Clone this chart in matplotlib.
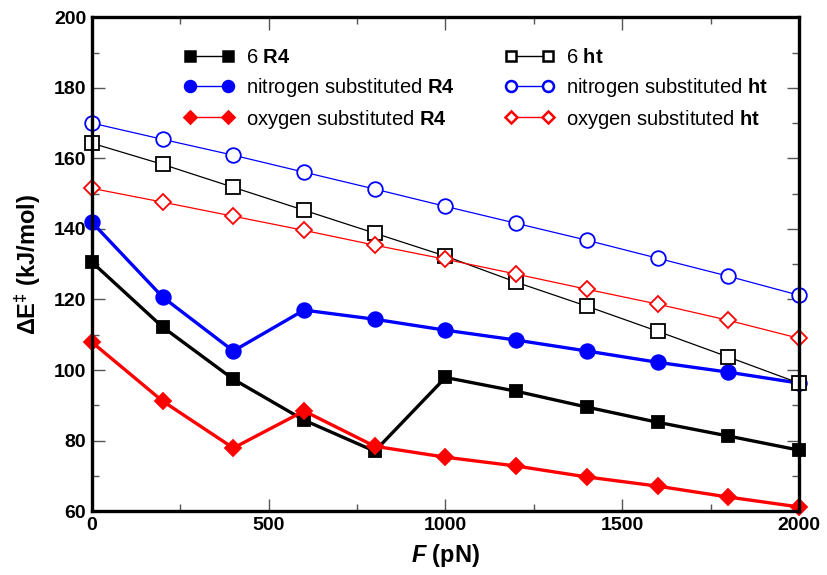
import matplotlib
matplotlib.use("Agg")
import matplotlib.pyplot as plt
from matplotlib.lines import Line2D
from matplotlib.ticker import MultipleLocator

plt.rcParams['font.family'] = ['Liberation Sans', 'DejaVu Sans']
plt.rcParams['mathtext.fontset'] = 'custom'
plt.rcParams['mathtext.rm'] = 'Liberation Sans'
plt.rcParams['mathtext.bf'] = 'Liberation Sans:bold'
plt.rcParams['mathtext.it'] = 'Liberation Sans:bold:italic'

force = [0, 200, 400, 600, 800, 1000, 1200, 1400, 1600, 1800, 2000]
r4_6 = [130.6, 112.2, 97.4, 85.8, 77.0, 97.9, 94.0, 89.5, 85.2, 81.3, 77.3]
r4_n = [141.9, 120.7, 105.4, 117.0, 114.4, 111.3, 108.5, 105.4, 102.2, 99.4, 96.3]
r4_o = [107.9, 91.2, 77.9, 88.4, 78.4, 75.3, 72.8, 69.7, 67.1, 64.0, 61.2]
ht_6 = [164.3, 158.3, 151.8, 145.3, 138.8, 132.3, 124.9, 118.1, 111.0, 103.7, 96.3]
ht_n = [170.0, 165.4, 160.9, 156.1, 151.3, 146.4, 141.6, 136.8, 131.7, 126.6, 121.2]
ht_o = [151.5, 147.6, 143.6, 139.6, 135.4, 131.4, 127.2, 122.9, 118.7, 114.1, 109.0]

labels = [r'6 $\mathbf{R4}$', r'nitrogen substituted $\mathbf{R4}$', r'oxygen substituted $\mathbf{R4}$',
          r'6 $\mathbf{ht}$', r'nitrogen substituted $\mathbf{ht}$', r'oxygen substituted $\mathbf{ht}$']

fig = plt.figure(figsize=(8.28, 5.75), dpi=100)
ax = fig.add_axes([0.111, 0.111, 0.854, 0.859])

styles = [
    (r4_6, 'black', 's', True, 2.4, 9),
    (r4_n, 'blue', 'o', True, 2.4, 10.5),
    (r4_o, 'red', 'D', True, 2.4, 8),
    (ht_6, 'black', 's', False, 0.9, 10),
    (ht_n, 'blue', 'o', False, 0.9, 10.5),
    (ht_o, 'red', 'D', False, 0.9, 8),
]
handles = []
for (vals, c, m, filled, lw, ms) in styles:
    ax.plot(force, vals, color=c, lw=lw, marker=m, ms=ms,
            mfc=c if filled else 'white', mec=c, mew=1.3, clip_on=False, zorder=3)
    handles.append(Line2D([0], [0], color=c, lw=1.0, marker=m, ms=ms * 0.75,
                          mfc=c if filled else 'white', mec=c, mew=1.8))

ax.set_xlim(0, 2000)
ax.set_ylim(60, 200)
ax.xaxis.set_major_locator(MultipleLocator(500))
ax.xaxis.set_minor_locator(MultipleLocator(250))
ax.yaxis.set_major_locator(MultipleLocator(20))
ax.yaxis.set_minor_locator(MultipleLocator(10))
ax.tick_params(which='both', direction='in', top=True, right=True, width=1, colors='#555555',
               labelcolor='black')
ax.tick_params(which='major', length=9, labelsize=14, pad=4)
ax.tick_params(which='minor', length=5)
for lab in ax.get_xticklabels() + ax.get_yticklabels():
    lab.set_fontweight('bold')
for s in ax.spines.values():
    s.set_linewidth(2.4)
    s.set_zorder(5)

ax.set_xlabel(r'$\it{F}$ (pN)', fontsize=17, fontweight='bold', labelpad=6)
ax.set_ylabel(r'$\mathbf{\Delta E^{\ddag}}$ (kJ/mol)', fontsize=17, fontweight='bold', labelpad=8)

ax.legend(handles, labels, ncol=2, frameon=False, numpoints=2, handlelength=2.45,
          handletextpad=0.6, columnspacing=2.5, labelspacing=0.43, fontsize=14.5,
          loc='upper left', bbox_to_anchor=(0.105, 0.974))

fig.savefig('out.png', dpi=100)
